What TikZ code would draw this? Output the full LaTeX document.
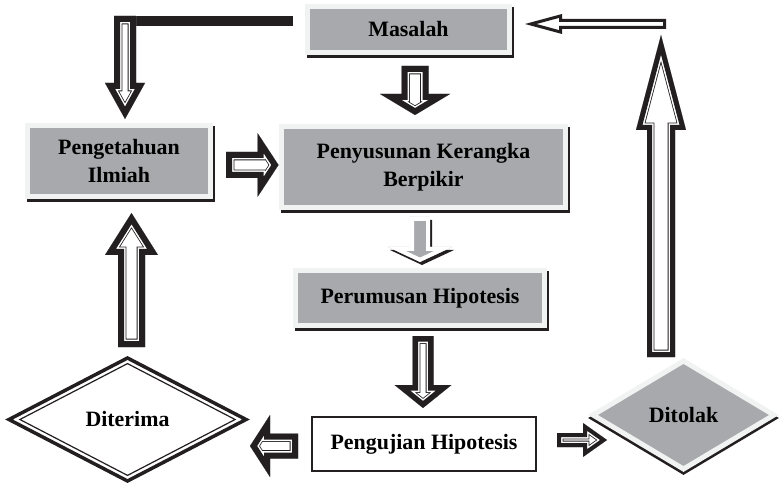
\documentclass[tikz,border=0pt]{standalone}
\usepackage{fontspec}
\setmainfont{Liberation Serif}
\usetikzlibrary{shapes,arrows,positioning,calc,shadows}
\usepackage{xcolor}
\definecolor{boxgray}{RGB}{167,169,172}
\definecolor{boxrim}{RGB}{241,242,242}
\definecolor{shadowblack}{RGB}{35,31,32}

% outline of a block arrow from #1 (tail) to #2 (tip)
\newcommand{\setarrow}[5]{%
  \coordinate (neck) at ($(#2)!#5pt!(#1)$);
  \def\arrshape{($(#1)!#3pt!90:(#2)$) -- ($(neck)!#3pt!90:(#2)$) -- ($(neck)!#4pt!90:(#2)$) -- (#2)
    -- ($(neck)!#4pt!-90:(#2)$) -- ($(neck)!#3pt!-90:(#2)$) -- ($(#1)!#3pt!-90:(#2)$) -- cycle}}
% hollow arrow, thick outer line and thin inner line
\newcommand{\blockarrow}[6]{%
  \setarrow{#1}{#2}{#3}{#4}{#5}
  \pgfmathsetmacro\wa{2*(#6+2.3)}
  \pgfmathsetmacro\wb{2*(#6+1.5)}
  \pgfmathsetmacro\wc{2*#6}
  \begin{scope}
    \clip \arrshape;
    \fill[white] \arrshape;
    \draw[shadowblack, line width=\wa pt] \arrshape;
    \draw[white, line width=\wb pt] \arrshape;
    \draw[shadowblack, line width=\wc pt] \arrshape;
  \end{scope}}
% plain outlined arrow
\newcommand{\thinarrow}[5]{%
  \setarrow{#1}{#2}{#3}{#4}{#5}
  \begin{scope}
    \clip \arrshape;
    \fill[white] \arrshape;
    \draw[shadowblack, line width=6pt] \arrshape;
  \end{scope}}
% grey arrow with a shadow
\newcommand{\shadearrow}[5]{%
  \setarrow{#1}{#2}{#3}{#4}{#5}
  \fill[shadowblack, transform canvas={xshift=2pt,yshift=-3pt}] \arrshape;
  \begin{scope}
    \clip \arrshape;
    \fill[boxgray] \arrshape;
    \draw[white, line width=8pt] \arrshape;
  \end{scope}}

\begin{document}
\begin{tikzpicture}[x=1pt, y=-1pt,
    boxtext/.style={font=\fontsize{21.9}{28}\selectfont\bfseries, align=center,
                    inner sep=0pt, outer sep=0pt},
    graybox/.style={boxtext, rectangle, fill=boxgray, draw=boxrim, line width=5pt,
                    general shadow={fill=shadowblack, draw=shadowblack, line width=5pt,
                                    shadow xshift=2pt, shadow yshift=-3pt}},
    whitebox/.style={boxtext, rectangle, fill=white, draw=shadowblack, line width=2pt},
]
\useasboundingbox (0,0) rectangle (779,486);

% boxes
\node[graybox, minimum width=202pt, minimum height=46pt] (masalah) at (408.5,29.5) {Masalah};
\node[graybox, minimum width=183pt, minimum height=71pt] (pengetahuan) at (119,161) {Pengetahuan\\Ilmiah};
\node[graybox, minimum width=284pt, minimum height=81pt] (penyusunan) at (423.5,167) {Penyusunan Kerangka\\Berpikir};
\node[graybox, minimum width=249pt, minimum height=55pt] (perumusan) at (420,298) {Perumusan Hipotesis};
\node[whitebox, minimum width=224pt, minimum height=54pt] (pengujian) at (424,444) {Pengujian Hipotesis};

% decisions
\node[boxtext, diamond, fill=white, draw=shadowblack, line width=3.5pt,
      minimum width=237pt, minimum height=123pt] (diterima) at (127.5,419.5) {Diterima};
\draw[shadowblack, line width=1.2pt] ($(diterima.north)+(0,5.6)$) -- ($(diterima.east)+(-10.9,0)$)
    -- ($(diterima.south)+(0,-5.6)$) -- ($(diterima.west)+(10.9,0)$) -- cycle;
\node[boxtext, diamond, fill=boxgray, draw=boxrim, line width=5pt,
      general shadow={fill=shadowblack, draw=shadowblack, line width=5pt,
                      shadow xshift=0pt, shadow yshift=-3pt},
      minimum width=181pt, minimum height=108pt] (ditolak) at (683.5,415) {Ditolak};

% Masalah -> Pengetahuan Ilmiah
\coordinate (a1) at ($(masalah.west)+(-14.5,-8.5)$);
\coordinate (a2) at ($(pengetahuan.north)+(6,-6.5)$);
\coordinate (a0) at (a2 |- a1);
\draw[shadowblack, line width=10pt] (a1) -- (a0);
\coordinate (a3) at ($(a0)+(0,-5)$);
\blockarrow{a3}{a2}{11}{20}{36}{6}

% Masalah -> Penyusunan
\coordinate (b1) at ($(masalah.south)+(6.5,13.5)$);
\coordinate (b2) at ($(penyusunan.north)+(-8.5,-11.5)$);
\blockarrow{b1}{b2}{13.5}{35}{21}{6}

% Pengetahuan -> Penyusunan
\coordinate (c1) at ($(pengetahuan.east)+(15.5,4)$);
\coordinate (c2) at ($(penyusunan.west)+(-3,-2)$);
\blockarrow{c1}{c2}{13}{32}{21}{6}

% Penyusunan -> Perumusan
\coordinate (d1) at ($(penyusunan.south)+(-3.5,9.5)$);
\coordinate (d2) at ($(perumusan.north)+(0,-8.5)$);
\shadearrow{d1}{d2}{10}{32}{15}

% Perumusan -> Pengujian
\coordinate (e1) at ($(perumusan.south)+(3,10.5)$);
\coordinate (e2) at ($(pengujian.north)+(-1,-9)$);
\blockarrow{e1}{e2}{10.5}{28.5}{23}{5.5}

% Pengujian -> Diterima / Ditolak
\coordinate (f1) at ($(pengujian.west)+(-14,2)$);
\coordinate (f2) at ($(diterima.east)+(4,26.5)$);
\blockarrow{f1}{f2}{12.5}{31}{20}{6}
\coordinate (g1) at ($(pengujian.east)+(21,-4)$);
\coordinate (g2) at ($(ditolak.west)+(14,25)$);
\blockarrow{g1}{g2}{7}{17}{24}{4}

% Diterima -> Pengetahuan
\coordinate (h1) at ($(diterima.north)+(4,-11)$);
\coordinate (h2) at ($(pengetahuan.south)+(12.5,16.5)$);
\blockarrow{h1}{h2}{13.5}{26.5}{42}{6}

% Ditolak -> Masalah
\coordinate (i1) at ($(ditolak.north)+(-22.5,-4)$);
\coordinate (j2) at ($(masalah.east)+(15.5,-5.5)$);
\coordinate (turn) at (i1 |- j2);
\coordinate (i2) at ($(turn)+(0,11)$);
\coordinate (j1) at ($(turn)+(5,0)$);
\blockarrow{i1}{i2}{14}{25}{95}{5}
\thinarrow{j1}{j2}{5}{10}{37}

\end{tikzpicture}
\end{document}
